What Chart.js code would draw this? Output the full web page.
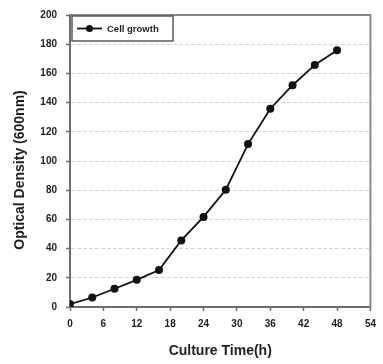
<!DOCTYPE html>
<html>
<head>
<meta charset="utf-8">
<script src="https://cdn.jsdelivr.net/npm/chart.js@4/dist/chart.umd.min.js"></script>
<style>
  html, body { margin: 0; padding: 0; background: #fff; }
  #wrap { width: 383px; height: 364px; }
</style>
</head>
<body>
<div id="wrap"><canvas id="c" width="383" height="364"></canvas></div>
<script>
// Culture time (h) and optical density readings
const hours = [0, 4, 8, 12, 16, 20, 24, 28, 32, 36, 40, 44, 48];
const density = [2, 6.5, 12.5, 18.6, 25.3, 45.6, 61.7, 80.3, 111.6, 135.8, 151.9, 165.8, 175.8];
const seriesName = 'Cell growth';
const xTicks = [0, 6, 12, 18, 24, 30, 36, 42, 48, 54];
const yTicks = [0, 20, 40, 60, 80, 100, 120, 140, 160, 180, 200];
const xTitle = 'Culture Time(h)';
const yTitle = 'Optical Density (600nm)';

const ink = '#1e1e1e';
const axisGray = '#6e6e6e';

// Top and right edges of the plot frame
const frame = {
  id: 'frame',
  afterDraw(chart) {
    const { ctx, chartArea: a } = chart;
    ctx.save();
    ctx.strokeStyle = '#8a8a8a';
    ctx.lineWidth = 2;
    ctx.beginPath();
    ctx.moveTo(a.left, a.top);
    ctx.lineTo(a.right, a.top);
    ctx.lineTo(a.right, a.bottom);
    ctx.stroke();
    ctx.restore();
  }
};

// Boxed legend in the upper-left corner of the plot
const boxLegend = {
  id: 'boxLegend',
  afterDraw(chart) {
    const { ctx, chartArea: a } = chart;
    const ds = chart.data.datasets[0];
    const x = a.left + 2, y = a.top + 1, w = 101, h = 25;
    ctx.save();
    ctx.fillStyle = '#fff';
    ctx.fillRect(x, y, w, h);
    ctx.strokeStyle = '#5a5a5a';
    ctx.lineWidth = 1.5;
    ctx.strokeRect(x, y, w, h);
    const cy = y + h / 2;
    ctx.strokeStyle = ds.borderColor;
    ctx.lineWidth = 1.8;
    ctx.beginPath();
    ctx.moveTo(x + 5, cy);
    ctx.lineTo(x + 30, cy);
    ctx.stroke();
    ctx.fillStyle = ds.pointBackgroundColor;
    ctx.beginPath();
    ctx.arc(x + 17.5, cy, 3.5, 0, Math.PI * 2);
    ctx.fill();
    ctx.fillStyle = ink;
    ctx.font = 'bold 9.5px "Liberation Sans", Arial, sans-serif';
    ctx.textBaseline = 'middle';
    ctx.textAlign = 'left';
    ctx.fillText(ds.label, x + 35, cy + 0.5);
    ctx.restore();
  }
};

// Rotated y-axis title, centred a little below the middle of the axis
const yAxisTitle = {
  id: 'yAxisTitle',
  afterDraw(chart) {
    const { ctx, chartArea: a } = chart;
    ctx.save();
    ctx.translate(20, (a.top + a.bottom) / 2 + 9);
    ctx.rotate(-Math.PI / 2);
    ctx.fillStyle = ink;
    ctx.font = 'bold 14px "Liberation Sans", Arial, sans-serif';
    ctx.textAlign = 'center';
    ctx.textBaseline = 'middle';
    ctx.fillText(yTitle, 0, 0);
    ctx.restore();
  }
};

const tickFont = { family: '"Liberation Sans", Arial, sans-serif', size: 10, weight: 'bold' };

new Chart(document.getElementById('c'), {
  type: 'line',
  data: {
    datasets: [{
      label: seriesName,
      data: hours.map((h, i) => ({ x: h, y: density[i] })),
      borderColor: '#111',
      borderWidth: 1.8,
      pointBackgroundColor: '#111',
      pointBorderColor: '#111',
      pointRadius: 4,
      pointBorderWidth: 0,
      tension: 0,
      fill: false
    }]
  },
  options: {
    responsive: false,
    animation: false,
    devicePixelRatio: 1,
    layout: { padding: { top: 9, right: 10, bottom: 0, left: 0 } },
    plugins: {
      legend: { display: false },
      tooltip: { enabled: false }
    },
    scales: {
      x: {
        type: 'linear',
        min: xTicks[0],
        max: xTicks[xTicks.length - 1],
        afterBuildTicks(scale) { scale.ticks = xTicks.map(v => ({ value: v })); },
        afterFit(scale) { scale.height = 57; },
        ticks: { font: tickFont, color: ink, padding: 7, maxRotation: 0, autoSkip: false },
        grid: { drawOnChartArea: false, drawTicks: true, tickLength: 4, tickColor: axisGray, tickWidth: 1.5 },
        border: { color: axisGray, width: 2 },
        title: {
          display: true,
          text: xTitle,
          color: ink,
          font: { family: '"Liberation Sans", Arial, sans-serif', size: 14, weight: 'bold' },
          padding: { top: 0, bottom: 4 }
        }
      },
      y: {
        min: yTicks[0],
        max: yTicks[yTicks.length - 1],
        afterBuildTicks(scale) { scale.ticks = yTicks.map(v => ({ value: v })); },
        afterFit(scale) { scale.width = 70; },
        ticks: { font: tickFont, color: ink, padding: 9 },
        grid: {
          color: ctx => (ctx.tick && (ctx.tick.value === yTicks[0] || ctx.tick.value === yTicks[yTicks.length - 1])) ? 'rgba(0,0,0,0)' : '#d6d6d6',
          lineWidth: 1,
          drawTicks: true,
          tickLength: 4,
          tickColor: axisGray,
          tickWidth: 1.5,
          tickBorderDash: []
        },
        border: { color: axisGray, width: 2, dash: [4, 2] }
      }
    }
  },
  plugins: [frame, boxLegend, yAxisTitle]
});
</script>
</body>
</html>
